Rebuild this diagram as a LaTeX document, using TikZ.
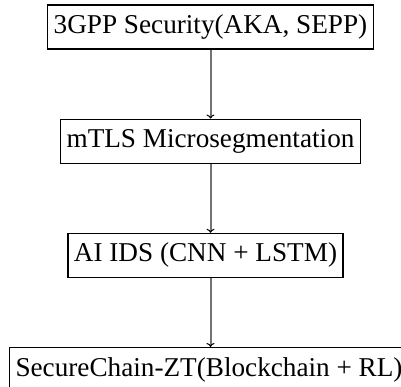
\documentclass[tikz,border=0pt]{standalone}
\usepackage{fontspec}
\setmainfont{Liberation Serif}
\usetikzlibrary{positioning,arrows.meta}

\tikzstyle{layer} = [draw, line width=1.2pt, minimum height=44pt, inner xsep=6pt, inner ysep=0pt, font=\fontsize{27.2}{32}\selectfont]
\tikzstyle{flow} = [draw=black!55, line width=2pt, -{To[black, length=4pt, width=8pt, line width=1pt]}]

\begin{document}
\begin{tikzpicture}[x=1pt, y=1pt, node distance=69pt]
\useasboundingbox (0,0) rectangle (401,-387);
\node[layer] (sec) at (210.5,-27) {3GPP Security(AKA, SEPP)};
\node[layer, below=of sec] (mtls) {mTLS Microsegmentation};
\node[layer, below=of mtls, xshift=-5pt] (ids) {AI IDS (CNN + LSTM)};
\node[layer, below=of ids, xshift=3.5pt] (chain) {SecureChain-ZT(Blockchain + RL)};

\draw[flow] (sec.south) -- (mtls.north);
\draw[flow] (mtls.south) -- (mtls.south |- ids.north);
\draw[flow] (mtls.south |- ids.south) -- (mtls.south |- chain.north);
\end{tikzpicture}
\end{document}
